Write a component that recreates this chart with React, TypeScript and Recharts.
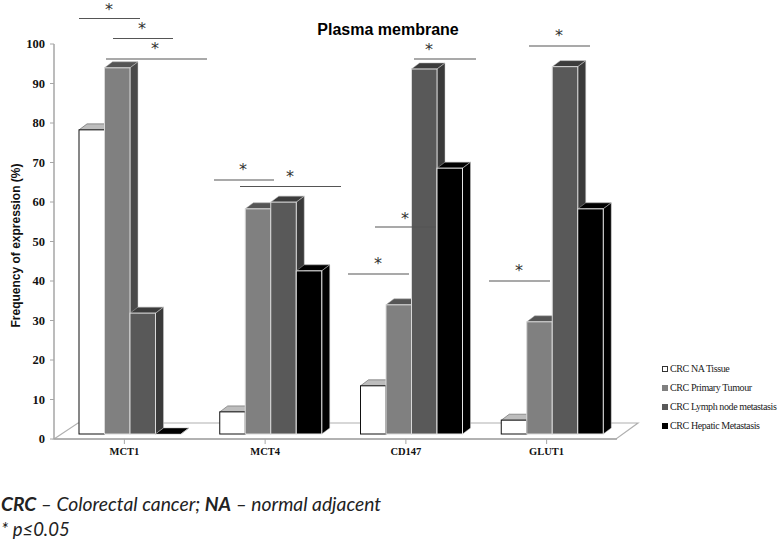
import React from 'react'
import { BarChart, Bar, XAxis, YAxis, Legend, Label } from 'recharts'

const categories = ['MCT1', 'MCT4', 'CD147', 'GLUT1']
const naTissue = [77, 5.6, 12.2, 3.5]
const primaryTumour = [92.7, 57, 32.7, 28.4]
const lymphNode = [30.6, 58.7, 92.4, 93]
const hepatic = [0, 41.3, 67.3, 57]
const yTicks = [0, 10, 20, 30, 40, 50, 60, 70, 80, 90, 100]

const data = categories.map((name, i) => ({
  name,
  na: naTissue[i],
  primary: primaryTumour[i],
  lymph: lymphNode[i],
  hepatic: hepatic[i],
}))

const series = [
  { key: 'na', label: 'CRC NA Tissue', front: '#ffffff', stroke: '#111111', top: '#bdbdbd', side: '#8c8c8c' },
  { key: 'primary', label: 'CRC Primary Tumour', front: '#808080', stroke: '#d9d9d9', top: '#555555', side: '#4a4a4a' },
  { key: 'lymph', label: 'CRC Lymph node metastasis', front: '#595959', stroke: '#d9d9d9', top: '#3c3c3c', side: '#3a3a3a' },
  { key: 'hepatic', label: 'CRC Hepatic Metastasis', front: '#000000', stroke: '#e5e5e5', top: '#000000', side: '#000000' },
]

// significance bars: x1, x2, y of the rule and x, y of the star
const marks = [
  [79, 140, 18.5, 109, 15],
  [113, 173, 38.5, 142, 34],
  [106, 207, 59, 155, 54],
  [214, 274, 180, 243, 175],
  [240, 341, 186.5, 290, 182],
  [375, 436, 227, 405, 224],
  [348, 409, 274, 378, 269],
  [414, 476, 59, 429, 55],
  [489, 550, 281, 519, 276],
  [529, 590, 46, 559, 41],
]

const DX = 8
const DY = 6
const LIFT = 5
const SHIFT = 6

function Bar3D(props: any) {
  const { x, y, width, height, front, stroke, top, side } = props
  const left = x + SHIFT
  const right = left + width
  const ty = y - LIFT
  const by = ty + height
  return (
    <g>
      <polygon points={`${left},${ty} ${left + DX},${ty - DY} ${right + DX},${ty - DY} ${right},${ty}`} fill={top} stroke={stroke === '#111111' ? '#444' : '#aaa'} strokeWidth={0.5} />
      <polygon points={`${right},${ty} ${right + DX},${ty - DY} ${right + DX},${by - DY} ${right},${by}`} fill={side} stroke="#ccc" strokeWidth={0.5} />
      {height > 0 && <rect x={left} y={ty} width={width} height={height} fill={front} stroke={stroke} strokeWidth={1} />}
    </g>
  )
}

function LegendBox() {
  return (
    <div style={{ fontFamily: '"Liberation Serif", serif', fontSize: 10, color: '#222', letterSpacing: -0.4 }}>
      {series.map((s) => (
        <div key={s.key} style={{ height: 19, lineHeight: '19px', whiteSpace: 'nowrap' }}>
          <span
            style={{
              display: 'inline-block',
              width: 6,
              height: 6,
              marginRight: 2,
              background: s.front,
              border: s.key === 'na' ? '1px solid #333' : '1px solid ' + s.front,
              boxSizing: 'border-box',
            }}
          />
          {s.label}
        </div>
      ))}
    </div>
  )
}

const tickFont = { fontFamily: '"Liberation Serif", serif', fontWeight: 700, fill: '#111' }

export default function App() {
  return (
    <div style={{ position: 'absolute', left: 0, top: 0, width: 778, height: 540, background: '#fff', overflow: 'hidden' }}>
      <BarChart
        width={778}
        height={540}
        data={data}
        margin={{ top: 44, right: 161, bottom: 0, left: 0 }}
        barSize={25.5}
        barGap={0}
        barCategoryGap={0}
      >
        <polygon points="54,439 78,423 638,423 616,439" fill="#ffffff" stroke="#b0b0b0" strokeWidth={1.2} />
        <XAxis
          dataKey="name"
          height={101}
          tickLine={{ stroke: '#a6a6a6' }}
          axisLine={{ stroke: '#a6a6a6', strokeWidth: 1.5 }}
          tick={{ ...tickFont, fontSize: 10.5 }}
          tickSize={5}
          tickMargin={4}
          interval={0}
        />
        <YAxis
          width={54}
          domain={[0, 100]}
          ticks={yTicks}
          interval={0}
          tickLine={{ stroke: '#a6a6a6' }}
          axisLine={{ stroke: '#a6a6a6', strokeWidth: 1.5 }}
          tick={{ ...tickFont, fontSize: 12.5 }}
          tickSize={4}
          tickMargin={5}
        >
          <Label
            value="Frequency of expression (%)"
            angle={-90}
            position="insideLeft"
            offset={16}
            dy={4}
            style={{ fontFamily: 'Liberation Sans, Arial, sans-serif', fontWeight: 700, fontSize: 12, fill: '#111', textAnchor: 'middle' }}
          />
        </YAxis>
        {series.map((s) => (
          <Bar
            key={s.key}
            dataKey={s.key}
            name={s.label}
            isAnimationActive={false}
            shape={(p: any) => <Bar3D {...p} front={s.front} stroke={s.stroke} top={s.top} side={s.side} />}
          />
        ))}
        <Legend
          layout="vertical"
          align="center"
          verticalAlign="middle"
          content={() => <LegendBox />}
          wrapperStyle={{ left: 662, top: 359, width: 116, height: 80 }}
        />
      </BarChart>
      <svg width={778} height={540} style={{ position: 'absolute', left: 0, top: 0, pointerEvents: 'none', opacity: 0.999 }}>
        <text x={388} y={35} textAnchor="middle" fontFamily="Liberation Sans, Arial, sans-serif" fontWeight={700} fontSize={16} fill="#000">
          Plasma membrane
        </text>
        {marks.map((m, i) => (
          <g key={i}>
            <line x1={m[0]} x2={m[1]} y1={m[2]} y2={m[2]} stroke="#555" strokeWidth={1.2} />
            <text x={m[3]} y={m[4]} textAnchor="middle" fontFamily="DejaVu Sans, sans-serif" fontSize={16} fill="#333">
              *
            </text>
          </g>
        ))}
        <text x={1} y={511} fontFamily="Lato, sans-serif" fontStyle="italic" fontSize={19.3} fill="#222">
          <tspan fontWeight={700}>CRC</tspan> – Colorectal cancer; <tspan fontWeight={700}>NA</tspan> – normal adjacent
        </text>
        <text x={1} y={536} fontFamily="Lato, sans-serif" fontStyle="italic" fontSize={18.5} fill="#222">
          * p≤0.05
        </text>
      </svg>
    </div>
  )
}
